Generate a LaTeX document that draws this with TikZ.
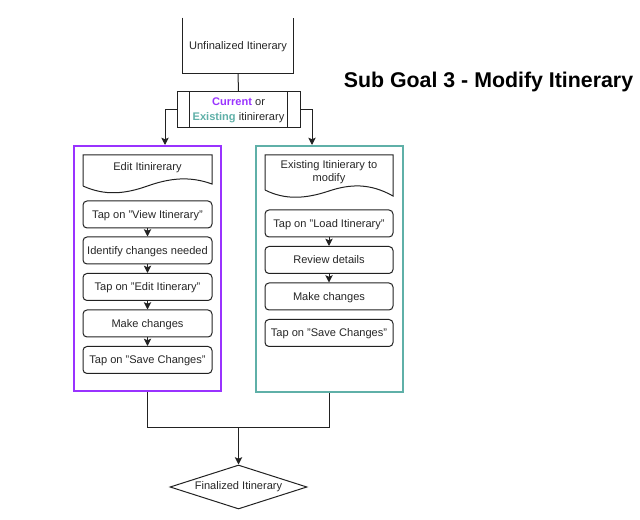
\documentclass[tikz,border=0pt]{standalone}
\usepackage{fontspec}
\setmainfont{Liberation Sans}
\usetikzlibrary{arrows.meta,shapes.geometric}
\definecolor{purp}{HTML}{9933FF}
\definecolor{tealc}{HTML}{5FB0A8}
\definecolor{linec}{HTML}{222222}
\tikzset{
  every node/.style={font=\fontsize{8.3}{10}\selectfont, text=black!85},
  lin/.style={draw=linec, line width=0.75pt},
  arr/.style={lin, -{Stealth[length=5.5pt,width=5.5pt,inset=1.2pt]}},
  rbox/.style={lin, rounded corners=3pt, minimum height=20.25pt, inner sep=0pt, align=center, text depth=1.5pt, text height=7.4pt},
  lbox/.style={rbox, minimum width=96.75pt},
  rtbox/.style={rbox, minimum width=96pt},
  cont/.style={line width=1.5pt, inner sep=0pt},
}
\begin{document}
\begin{tikzpicture}[x=0.75pt,y=-0.75pt]
\useasboundingbox (0,0) rectangle (640,520);
% top open box
\node[minimum width=82.5pt, minimum height=41.25pt, inner sep=0pt, text depth=1.5pt, text height=7.4pt] (top) at (238,45.5) {Unfinalized Itinerary};
\draw[lin] (top.north west) -- (top.south west) -- (top.south east) -- (top.north east);
% predefined process
\node[lin, minimum width=92.25pt, minimum height=27pt, inner sep=0pt, align=center] (proc) at (238.5,110)
  {\textcolor{purp}{\textbf{Current}} or\\[1pt] \textcolor{tealc}{\textbf{Existing}} itinirerary};
\draw[lin] ([xshift=9.75pt]proc.north west) -- ([xshift=9.75pt]proc.south west);
\draw[lin] ([xshift=-9.75pt]proc.north east) -- ([xshift=-9.75pt]proc.south east);
\draw[lin] (top.south) -- (proc.north);
% containers
\node[cont, draw=purp, minimum width=110.25pt, minimum height=183.75pt] (purpbox) at (147.5,268.5) {};
\node[cont, draw=tealc, minimum width=110.25pt, minimum height=184.5pt] (tealbox) at (329.5,269) {};
\draw[arr] (proc.west) -| ([xshift=13.125pt]purpbox.north);
\draw[arr] (proc.east) -| ([xshift=-13.125pt]tealbox.north);
% left document
\draw[lin] (83,186) -- (83,155) -- (212,155) -- (212,184)
  .. controls (190,176) and (170,178) .. (147.5,186)
  .. controls (125,194) and (105,196) .. (83,186);
\node (ldoc) at (147.5,168) {Edit Itinirerary};
% right document
\draw[lin] (265,190) -- (265,155) -- (393,155) -- (393,196)
  .. controls (370,183) and (350,184) .. (329,191)
  .. controls (305,199) and (285,200) .. (265,190);
\node[align=center] (rdoc) at (329,172) {Existing Itinierary to\\[0.2pt] modify};
% left steps
\node[lbox] (l1) at (147.5,214.5) {Tap on "View Itinerary"};
\node[lbox] (l2) at (147.5,250.5) {Identify changes needed};
\node[lbox] (l3) at (147.5,287) {Tap on "Edit Itinerary"};
\node[lbox] (l4) at (147.5,323.5) {Make changes};
\node[lbox] (l5) at (147.5,360) {Tap on "Save Changes"};
\draw[arr] (l1) -- (l2);
\draw[arr] (l2) -- (l3);
\draw[arr] (l3) -- (l4);
\draw[arr] (l4) -- (l5);
% right steps
\node[rtbox] (r1) at (329,223.5) {Tap on "Load Itinerary"};
\node[rtbox] (r2) at (329,260) {Review details};
\node[rtbox] (r3) at (329,296.5) {Make changes};
\node[rtbox] (r4) at (329,333) {Tap on "Save Changes"};
\draw[arr] (r1) -- (r2);
\draw[arr] (r2) -- (r3);
% bottom
\coordinate (join) at (238.5,428);
\node[lin, diamond, aspect=3.1, inner sep=0pt, minimum width=102.75pt, minimum height=33pt] (fin) at (238.5,487) {Finalized Itinerary};
\draw[lin] (purpbox.south) |- (join);
\draw[lin] (tealbox.south) |- (join);
\draw[arr] (join) -- (fin.north);
% title
\node[anchor=base, font=\fontsize{16}{19}\selectfont\bfseries, text=black] (title) at (488.5,88) {Sub Goal 3 - Modify Itinerary};
\end{tikzpicture}
\end{document}
